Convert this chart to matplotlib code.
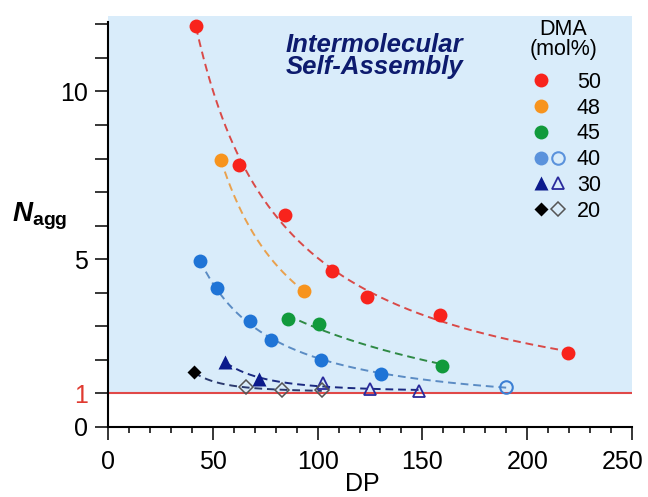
import numpy as np
import matplotlib
matplotlib.use("Agg")
import matplotlib.pyplot as plt
from matplotlib.lines import Line2D
from matplotlib.legend_handler import HandlerTuple
from matplotlib.ticker import MultipleLocator, FixedLocator

plt.rcParams['font.family'] = ['Liberation Sans', 'DejaVu Sans']
plt.rcParams['mathtext.fontset'] = 'custom'
plt.rcParams['mathtext.rm'] = 'Liberation Sans'
plt.rcParams['mathtext.bf'] = 'Liberation Sans:bold'
plt.rcParams['mathtext.it'] = 'Liberation Sans:italic'
plt.rcParams['mathtext.bfit'] = 'Liberation Sans:bold:italic'

# ---- data ----
dp50 = [42.0, 62.6, 84.4, 106.7, 123.4, 158.4, 219.5]
n50 = [11.96, 7.82, 6.31, 4.65, 3.88, 3.33, 2.2]

dp48 = [53.8, 93.5]
n48 = [7.97, 4.05]

dp45 = [85.8, 100.7, 159.4]
n45 = [3.22, 3.07, 1.83]

dp40 = [43.9, 51.8, 67.7, 77.8, 101.6, 130.3]
n40 = [4.94, 4.13, 3.15, 2.59, 2.0, 1.58]
dp40_open = [190.0]
n40_open = [1.2]

dp30 = [56.0, 72.2]
n30 = [1.94, 1.42]
dp30_open = [102.7, 125.0, 148.5]
n30_open = [1.3, 1.13, 1.06]

dp20 = [41.0]
n20 = [1.63]
dp20_open = [65.8, 82.9, 102.0]
n20_open = [1.19, 1.09, 1.09]

legend_labels = ['50', '48', '45', '40', '30', '20']
x_ticks = [0, 50, 100, 150, 200, 250]
y_ticks = list(range(0, 13))
y_labeled = [0, 1, 5, 10]

# colours
c50, c48, c45 = '#f8231c', '#f7941e', '#119a3c'
c40, c30, c20 = '#1f74d6', '#0b1a8c', '#000000'
bg_blue = '#d9ecfa'


def fit_curve(x, y):
    x = np.asarray(x, float)
    y = np.asarray(y, float)
    xs = np.linspace(x.min(), x.max(), 300)
    if len(x) < 3:
        p = np.log((y[0] - 1) / (y[1] - 1)) / np.log(x[1] / x[0])
        b = (y[0] - 1) * x[0] ** p
        return xs, 1 + b * xs ** (-p)
    best = None
    for p in np.linspace(0.3, 4.0, 200):
        A = np.column_stack([np.ones_like(x), x ** (-p)])
        coef, *_ = np.linalg.lstsq(A, y, rcond=None)
        sse = np.sum((A @ coef - y) ** 2)
        if best is None or sse < best[0]:
            best = (sse, p, coef)
    _, p, coef = best
    return xs, coef[0] + coef[1] * xs ** (-p)


fig = plt.figure(figsize=(6.48, 4.97), dpi=100)
ax = fig.add_axes([108 / 648, 1 - 427 / 497, 524 / 648, 411 / 497])
ax.set_xlim(0, 250)
ax.set_ylim(0, 12.25)

ax.axhspan(1, 12.25, color=bg_blue, zorder=0, lw=0)
ax.axhline(1, color='#e04848', lw=1.5, zorder=1)

dash = (0, (4, 2.5))
curves = [
    (dp50, n50, '#d94a48'),
    (dp48, n48, '#e9a14e'),
    (dp45, n45, '#2f8a45'),
    (dp40 + dp40_open, n40 + n40_open, '#5b8cc4'),
    (dp30 + dp30_open, n30 + n30_open, '#1b2a80'),
    (dp20 + dp20_open, n20 + n20_open, '#2b3a6e'),
]
for x, y, c in curves:
    xs, ys = fit_curve(x, y)
    ax.plot(xs, ys, ls=dash, color=c, lw=1.4, zorder=2)

ms = 10
ax.plot(dp50, n50, 'o', color=c50, ms=ms, mec='none', zorder=4)
ax.plot(dp48, n48, 'o', color=c48, ms=ms, mec='none', zorder=4)
ax.plot(dp45, n45, 'o', color=c45, ms=ms, mec='none', zorder=4)
ax.plot(dp40, n40, 'o', color=c40, ms=ms, mec='none', zorder=4)
ax.plot(dp40_open, n40_open, 'o', mfc='none', mec='#3b7fd4', ms=ms - 1, mew=1.5, zorder=4)
ax.plot(dp30, n30, '^', color=c30, ms=ms, mec='none', zorder=4)
ax.plot(dp30_open, n30_open, '^', mfc='none', mec='#2a2a9c', ms=ms - 1, mew=1.3, zorder=4)
ax.plot(dp20, n20, 'D', color=c20, ms=7, mec='none', zorder=4)
ax.plot(dp20_open, n20_open, 'D', mfc='none', mec='#555555', ms=7, mew=1.1, zorder=4)

# axes styling
for s in ['top', 'right']:
    ax.spines[s].set_visible(False)
for s in ['left', 'bottom']:
    ax.spines[s].set_linewidth(1.5)
ax.spines['left'].set_bounds(0, 12.08)

tick_fs = 18
ax.xaxis.set_major_locator(FixedLocator(x_ticks))
ax.xaxis.set_minor_locator(MultipleLocator(10))
ax.set_xticklabels([str(t) if t != x_ticks[-1] else '' for t in x_ticks])
ax.tick_params(axis='x', which='major', length=9.5, width=1.1, labelsize=tick_fs, pad=7)
ax.tick_params(axis='x', which='minor', length=4.5, width=1.1)
# last x tick label, nudged left as in the original
ax.annotate(str(x_ticks[-1]), xy=(x_ticks[-1], 0), xycoords=('data', 'axes fraction'),
            xytext=(-7, -16.5), textcoords='offset points', ha='center', va='top',
            fontsize=tick_fs)

ax.yaxis.set_major_locator(FixedLocator(y_ticks))
ax.set_yticklabels([str(t) if t in y_labeled else '' for t in y_ticks])
ax.tick_params(axis='y', which='major', length=9.5, width=1.1, labelsize=tick_fs, pad=5)
for lab, t in zip(ax.get_yticklabels(), y_ticks):
    if t == 1:
        lab.set_color('#e03a30')

ax.set_xlabel('DP', fontsize=18)
ax.xaxis.set_label_coords((362 - 108) / 524, (427 - 472) / 411)
fig.text(40 / 648, 1 - 216 / 497, r'$\mathbfit{N}_{\mathbf{agg}}$', fontsize=20,
         ha='center', va='center')

ax.text(0.508, 0.903, 'Intermolecular\nSelf-Assembly', transform=ax.transAxes,
        fontsize=18.5, fontweight='bold', fontstyle='italic', color='#0d1b6e',
        ha='center', va='center', linespacing=0.9)

# legend title (separate text for tight spacing)
fig.text(563.5 / 648, 1 - 19 / 497, 'DMA\n(mol%)', fontsize=15.5, ha='center', va='top',
         multialignment='center', linespacing=0.95)

blank = Line2D([], [], ls='none', marker='none')
lms = 10
h50 = Line2D([], [], ls='none', marker='o', color=c50, mec='none', ms=lms)
h48 = Line2D([], [], ls='none', marker='o', color=c48, mec='none', ms=lms)
h45 = Line2D([], [], ls='none', marker='o', color=c45, mec='none', ms=lms)
h40 = Line2D([], [], ls='none', marker='o', color='#5a92dc', mec='none', ms=lms)
h40o = Line2D([], [], ls='none', marker='o', mfc='none', mec='#5a92dc', ms=lms - 1, mew=1.5)
h30 = Line2D([], [], ls='none', marker='^', color=c30, mec='none', ms=lms)
h30o = Line2D([], [], ls='none', marker='^', mfc='none', mec='#2a2a9c', ms=lms - 1, mew=1.3)
h20 = Line2D([], [], ls='none', marker='D', color=c20, mec='none', ms=7)
h20o = Line2D([], [], ls='none', marker='D', mfc='none', mec='#555555', ms=7, mew=1.1)
handles = [(h50, blank), (h48, blank), (h45, blank), (h40, h40o), (h30, h30o), (h20, h20o)]
leg = ax.legend(handles, legend_labels, handler_map={tuple: HandlerTuple(ndivide=None, pad=0)},
                fontsize=15.5, frameon=False,
                loc='upper right', bbox_to_anchor=(601 / 648, 1 - 72 / 497),
                bbox_transform=fig.transFigure, borderpad=0, borderaxespad=0,
                handlelength=1.65, handletextpad=0.45, labelspacing=0.22)

fig.savefig('out.png', dpi=100)
